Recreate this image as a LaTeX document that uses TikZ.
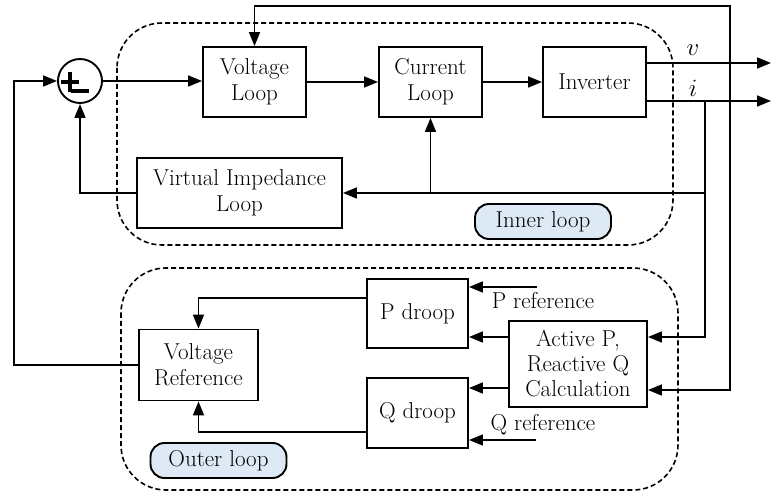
\documentclass[tikz,border=0pt]{standalone}
\usepackage{fontspec}
\usetikzlibrary{arrows.meta}
\definecolor{tagblue}{RGB}{221,233,245}
\begin{document}
\begin{tikzpicture}[x=1pt,y=-1pt,
  every node/.style={font=\fontsize{23}{26}\selectfont},
  block/.style={draw, line width=1.9pt, align=center, inner sep=0pt, fill=white},
  wire/.style={line width=1.7pt},
  arr/.style={wire, -{Triangle[length=14pt,width=11pt]}},
  dbl/.style={wire, {Triangle[length=14pt,width=11pt]}-{Triangle[length=14pt,width=11pt]}},
  zone/.style={dash pattern=on 5pt off 3pt, line width=1.6pt, rounded corners=45pt},
  tag/.style={draw, line width=1.9pt, fill=tagblue, rounded corners=14pt, inner sep=0pt,
              minimum width=136pt, minimum height=35pt}]
\useasboundingbox (0,0) rectangle (771,494);

% dashed loop regions
\draw[zone] (117,23) rectangle (673,245);
\draw[zone] (121,268) rectangle (678,490);

% summing junction
\node[draw, circle, line width=1.9pt, minimum size=44pt, inner sep=0pt] (sum) at (80,81) {};
\draw[line width=3.2pt] (61,82) -- (79,82) (70,72) -- (70,92) (71,91) -- (89,91);

% inner loop blocks
\node[block, minimum width=103pt, minimum height=70pt] (vl) at (254.5,82) {Voltage\\Loop};
\node[block, minimum width=103pt, minimum height=70pt] (cl) at (430.5,82) {Current\\Loop};
\node[block, minimum width=103pt, minimum height=70pt] (inv) at (594.5,82) {Inverter};
\node[block, minimum width=205pt, minimum height=70pt] (vi) at (239.5,193) {Virtual Impedance\\Loop};

% outer loop blocks
\node[block, minimum width=119pt, minimum height=71pt] (vr) at (198.5,365) {Voltage\\Reference};
\node[block, minimum width=101pt, minimum height=69pt] (pd) at (417.5,313.5) {P droop};
\node[block, minimum width=101pt, minimum height=70pt] (qd) at (417.5,413) {Q droop};
\node[block, minimum width=138pt, minimum height=86pt, font=\fontsize{23}{25}\selectfont] (pq) at (578,364) {Active P,\\Reactive Q\\Calculation};

% loop tags
\node[tag] (innertag) at (543,221.5) {Inner loop};
\node[tag] (outertag) at (218.5,460.5) {Outer loop};

% helper points
\coordinate (vout) at (771,63);
\coordinate (iout) at (771,101);
\coordinate (itap) at (705,101);
\coordinate (ijoin) at (705,193);
\coordinate (pin) at (705,337);
\coordinate (vtop) at (730,6);
\coordinate (qin) at (730,390);
\coordinate (lcorner) at (14,365);
\coordinate (pdo) at (367,298);
\coordinate (qdo) at (367,432);
\coordinate (pref) at (537,287);
\coordinate (qref) at (536,440);
\coordinate (qo) at (509,388);

% forward path
\draw[arr] (sum.east) -- (sum.east -| vl.west);
\draw[arr] (vl) -- (cl);
\draw[arr] (cl) -- (inv);
\draw[arr] (inv.east |- vout) -- (vout);
\draw[arr] (inv.east |- iout) -- (iout);
\node (vlab) at (693,50) {$v$};
\node (ilab) at (693,88) {$i$};

% current feedback
\draw[arr] (itap) -- (pin) -- (pin -| pq.east);
\draw[arr] (ijoin) -- (ijoin -| vi.east);
\draw[arr] (ijoin -| cl.south) -- (cl.south);
\draw[arr] (vi.west) -- (vi.west -| sum.south) -- (sum.south);

% voltage feedback
\draw[dbl] (vl.north) -- (vl.north |- vtop) -- (vtop) -- (qin) -- (qin -| pq.east);

% droop paths
\draw[arr] (pq.west |- pin) -- (pin -| pd.east);
\draw[arr] (qo) -- (qo -| qd.east);
\draw[arr] (pref) -- (pref -| pd.east);
\draw[arr] (qref) -- (qref -| qd.east);
\node (preflab) at (543,301) {P reference};
\node (qreflab) at (543,425) {Q reference};
\draw[arr] (pdo) -- (pdo -| vr.north) -- (vr.north);
\draw[arr] (qdo) -- (qdo -| vr.south) -- (vr.south);
\draw[arr] (vr.west) -- (lcorner) -- (lcorner |- sum.west) -- (sum.west);
\end{tikzpicture}
\end{document}
